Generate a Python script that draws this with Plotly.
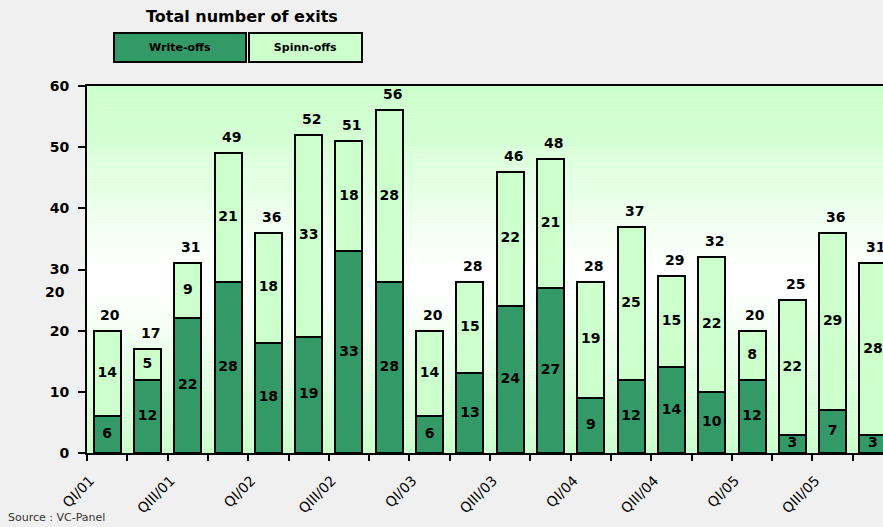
import plotly.graph_objects as go

categories = ["QI/01", "QII/01", "QIII/01", "QIV/01", "QI/02", "QII/02", "QIII/02", "QIV/02",
              "QI/03", "QII/03", "QIII/03", "QIV/03", "QI/04", "QII/04", "QIII/04", "QIV/04",
              "QI/05", "QII/05", "QIII/05", "QIV/05"]
write_offs = [6, 12, 22, 28, 18, 19, 33, 28, 6, 13, 24, 27, 9, 12, 14, 10, 12, 3, 7, 3]
spinn_offs = [14, 5, 9, 21, 18, 33, 18, 28, 14, 15, 22, 21, 19, 25, 15, 22, 8, 22, 29, 28]
totals = [20, 17, 31, 49, 36, 52, 51, 56, 20, 28, 46, 48, 28, 37, 29, 32, 20, 25, 36, 31]
shown_labels = ["QI/01", "QIII/01", "QI/02", "QIII/02", "QI/03", "QIII/03", "QI/04", "QIII/04", "QI/05", "QIII/05"]
y_ticks = [0, 10, 20, 30, 40, 50, 60]

DARK = "#339966"
LIGHT = "#CCFFCC"
FONT = "DejaVu Sans"

W, H = 883, 527
L, R, T, B = 87, 0, 86, 74
pw = W - L - R
ph = H - T - B

xs = list(range(len(categories)))
fig = go.Figure()
fig.add_trace(go.Bar(x=xs, y=write_offs, name="Write-offs", width=0.67,
                     marker=dict(color=DARK, line=dict(color="black", width=2)),
                     hoverinfo="skip"))
fig.add_trace(go.Bar(x=xs, y=spinn_offs, name="Spinn-offs", width=0.67,
                     marker=dict(color=LIGHT, line=dict(color="black", width=2)),
                     hoverinfo="skip"))

lblfont = dict(family=FONT, size=14, color="black", weight="bold")
fig.add_trace(go.Scatter(x=xs, y=[w / 2 for w in write_offs], mode="text",
                         text=[str(v) for v in write_offs], textfont=lblfont,
                         hoverinfo="skip", showlegend=False))
fig.add_trace(go.Scatter(x=xs, y=[w + s / 2 for w, s in zip(write_offs, spinn_offs)], mode="text",
                         text=[str(v) for v in spinn_offs], textfont=lblfont,
                         hoverinfo="skip", showlegend=False))

annotations = []
for i, t in enumerate(totals):
    annotations.append(dict(x=i, y=t, xref="x", yref="y", text=str(t), showarrow=False,
                            yshift=16, xshift=3, font=lblfont))

# gradient background
shapes = []
n = 120
def mix(f):
    c0 = (255, 255, 255)
    c1 = (0xCC, 0xFF, 0xCC)
    return "rgb(%d,%d,%d)" % tuple(round(a + (b - a) * f) for a, b in zip(c0, c1))
for k in range(n):
    y0 = 60 * k / n
    y1 = 60 * (k + 1) / n
    v = (y0 + y1) / 2
    if v >= 30:
        f = min(1, (v - 30) / 26)
    elif v <= 26:
        f = min(1, (26 - v) / 24)
    else:
        f = 0
    shapes.append(dict(type="rect", xref="paper", yref="y", x0=0, x1=1, y0=y0, y1=y1,
                       fillcolor=mix(f), line=dict(width=0), layer="below"))

def px2paper_x(px):
    return (px - L) / pw

def px2paper_y(py):
    return (H - B - py) / ph

# title
annotations.append(dict(xref="paper", yref="paper", x=px2paper_x(242), y=px2paper_y(16),
                        xanchor="center", yanchor="middle",
                        text="Total number of exits", showarrow=False,
                        font=dict(family=FONT, size=16, color="black", weight="bold")))
# legend boxes
annotations.append(dict(xref="paper", yref="paper", x=px2paper_x(180), y=px2paper_y(47.5),
                        xanchor="center", yanchor="middle",
                        text="Write-offs", showarrow=False, width=130, height=27,
                        bgcolor=DARK, bordercolor="black", borderwidth=2, borderpad=0,
                        font=dict(family=FONT, size=11, color="black", weight="bold")))
annotations.append(dict(xref="paper", yref="paper", x=px2paper_x(305.5), y=px2paper_y(47.5),
                        xanchor="center", yanchor="middle",
                        text="Spinn-offs", showarrow=False, width=111, height=27,
                        bgcolor=LIGHT, bordercolor="black", borderwidth=2, borderpad=0,
                        font=dict(family=FONT, size=11, color="black", weight="bold")))
# stray axis label
annotations.append(dict(xref="paper", yref="y", x=px2paper_x(67), y=26.3, xanchor="right",
                        yanchor="middle",
                        text="20", showarrow=False,
                        font=dict(family=FONT, size=14, color="black", weight="bold")))
# source
annotations.append(dict(xref="paper", yref="paper", x=px2paper_x(6), y=px2paper_y(526),
                        xanchor="left", yanchor="bottom", text="Source : VC-Panel", showarrow=False,
                        font=dict(family=FONT, size=11, color="#333333")))

fig.update_layout(
    width=W, height=H, margin=dict(l=L, r=R, t=T, b=B, pad=0, autoexpand=False),
    paper_bgcolor="#F0F0F0", plot_bgcolor="white",
    barmode="stack", showlegend=False,
    shapes=shapes, annotations=annotations,
    xaxis=dict(range=[-0.5, 19.25], tickmode="array", tickvals=xs[::2], ticktext=shown_labels,
               tickangle=-45, ticks="", showgrid=False, zeroline=False, automargin=False,
               showline=True, linecolor="black", linewidth=2, mirror=True,
               tickfont=dict(family=FONT, size=14, color="black"),
               ticklabelstandoff=12, ticklabelshift=-17,
               minor=dict(tickmode="linear", tick0=-0.5, dtick=1, ticks="outside",
                          ticklen=6, tickwidth=2, tickcolor="black", showgrid=False)),
    yaxis=dict(range=[0, 60], tickmode="array", tickvals=y_ticks, ticks="outside",
               ticklen=7, tickwidth=2, tickcolor="black", showgrid=False, zeroline=False,
               showline=True, linecolor="black", linewidth=2, automargin=False,
               tickfont=dict(family=FONT, size=14, color="black", weight="bold"),
               ticklabelstandoff=6),
)

fig.write_html("out.html")
